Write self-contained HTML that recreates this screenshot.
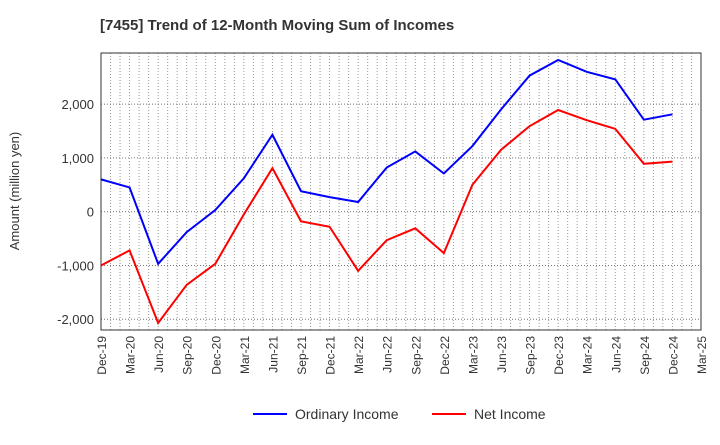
<!DOCTYPE html>
<html><head><meta charset="utf-8"><style>
body{margin:0;background:#fff;font-family:"Liberation Sans",sans-serif}
</style></head><body>
<svg id="c" width="720" height="440" xmlns="http://www.w3.org/2000/svg">
<text x="100" y="30" font-size="15" font-weight="bold" fill="#333">[7455]  Trend of 12-Month Moving Sum of Incomes</text>
<text transform="translate(19,191) rotate(-90)" text-anchor="middle" font-size="13" fill="#333">Amount (million yen)</text>
<g id="grid"></g><g id="axes"></g><g id="series"></g>
<g>
<line x1="253" y1="414" x2="287" y2="414" stroke="#0000ff" stroke-width="2"/>
<text x="295" y="419" font-size="14" fill="#333">Ordinary Income</text>
<line x1="432" y1="414" x2="466" y2="414" stroke="#ff0000" stroke-width="2"/>
<text x="474" y="419" font-size="14" fill="#333">Net Income</text>
</g>
</svg>
<script>
const categories=["Dec-19","Mar-20","Jun-20","Sep-20","Dec-20","Mar-21","Jun-21","Sep-21","Dec-21","Mar-22","Jun-22","Sep-22","Dec-22","Mar-23","Jun-23","Sep-23","Dec-23","Mar-24","Jun-24","Sep-24","Dec-24","Mar-25"];
const ordinaryIncome=[600,450,-970,-380,30,620,1430,380,270,180,820,1120,710,1220,1900,2530,2820,2600,2460,1710,1810];
const netIncome=[-1000,-720,-2070,-1360,-970,-50,810,-180,-280,-1100,-530,-310,-770,500,1150,1590,1890,1700,1540,890,930];
const yTicks=[-2000,-1000,0,1000,2000];
const yTickLabels=["-2,000","-1,000","0","1,000","2,000"];
const L=101,R=701,T=53,B=330,yMin=-2200,yMax=2950;
const NS="http://www.w3.org/2000/svg";
const xs=i=>L+i*(R-L)/(categories.length-1);
const ys=v=>B-(v-yMin)/(yMax-yMin)*(B-T);
function mk(t,a,p){const e=document.createElementNS(NS,t);for(const k in a)e.setAttribute(k,a[k]);p.appendChild(e);return e;}
const grid=document.getElementById('grid'),axes=document.getElementById('axes'),ser=document.getElementById('series');
const nm=(categories.length-1)*3;
for(let m=1;m<nm;m++){const x=L+m*(R-L)/nm;const g=mk('line',{x1:x,x2:x,y1:T,y2:B,stroke:'#999','stroke-dasharray':'1,2','stroke-width':1},grid);

}
yTicks.forEach((v,i)=>{const y=ys(v);const g=mk('line',{x1:L,x2:R,y1:y,y2:y,stroke:'#777','stroke-dasharray':'1,2'},grid);


const t=mk('text',{x:L-7,y:y+5,'text-anchor':'end','font-size':13,fill:'#333'},axes);t.textContent=yTickLabels[i];

});
const box=mk('rect',{x:L,y:T,width:R-L,height:B-T,fill:'none',stroke:'#333'},axes);


categories.forEach((c,i)=>{const x=xs(i);const t=mk('text',{transform:`translate(${x+5},${B+6}) rotate(-90)`,'text-anchor':'end','font-size':12,fill:'#333'},axes);t.textContent=c;

});
function line(d,col,name){const p=mk('polyline',{points:d.map((v,i)=>xs(i)+','+ys(v)).join(' '),fill:'none',stroke:col,'stroke-width':2},ser);

}
line(ordinaryIncome,'#0000ff','ordinary-income-line');
line(netIncome,'#ff0000','net-income-line');
</script>
</body></html>
